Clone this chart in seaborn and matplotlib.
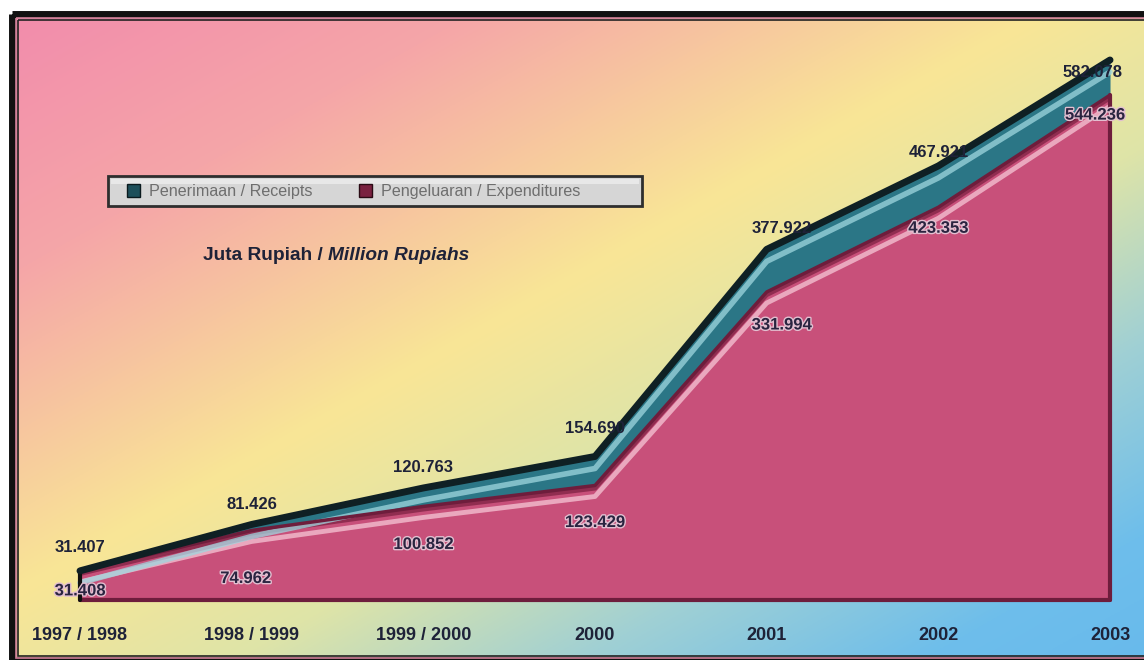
import numpy as np
import pandas as pd
import matplotlib
matplotlib.use("Agg")
import matplotlib.pyplot as plt
import matplotlib.patheffects as pe
import matplotlib.transforms as mtransforms
from matplotlib.patches import Patch, Rectangle
import seaborn as sns

# ---------------- data ----------------
periods = ["1997 / 1998", "1998 / 1999", "1999 / 2000", "2000", "2001", "2002", "2003"]
receipts = [31.407, 81.426, 120.763, 154.690, 377.922, 467.921, 582.078]
expenditures = [31.408, 74.962, 100.852, 123.429, 331.994, 423.353, 544.236]
legend_labels = ["Penerimaan / Receipts", "Pengeluaran / Expenditures"]
unit_main = "Juta Rupiah / "
unit_italic = "Million Rupiahs"

# label offsets (pixels)
rec_off = [(0, 23), (0, 20), (0, 20), (0, 28), (15, 21), (0, 13), (-17, -12)]
exp_off = [(0, -20), (-6, -48), (0, -38), (0, -37), (15, -33), (0, -21), (-15, -20)]

sns.set_theme(style="white")
plt.rcParams['font.family'] = ['Liberation Sans', 'DejaVu Sans']

W, H = 1144, 660
fig = plt.figure(figsize=(W / 100, H / 100), dpi=100)
fig.patch.set_facecolor("white")

# ---------------- gradient background ----------------
bg = fig.add_axes([0, 0, 1, 1])
bg.set_xlim(0, W)
bg.set_ylim(H, 0)
bg.axis("off")
xx, yy = np.meshgrid(np.linspace(0, 1, 400), np.linspace(0, 1, 240))
t = 0.5 * xx + 0.5 * yy
stops = np.array([0.0, 0.2, 0.45, 0.6, 0.75, 0.9, 1.0])
cols = np.array([
    [242, 140, 172],
    [245, 166, 168],
    [249, 230, 150],
    [222, 228, 168],
    [160, 208, 212],
    [110, 190, 235],
    [104, 186, 236],
]) / 255.0
img = np.dstack([np.interp(t, stops, cols[:, k]) for k in range(3)])
bg.imshow(img, extent=(14, W + 10, H - 2, 14), aspect="auto", zorder=0)
# frame
bg.add_patch(Rectangle((12, 14), W, H - 14, fill=False, ec="#111111", lw=5, zorder=2))
bg.add_patch(Rectangle((15.5, 17.5), W, H - 20, fill=False, ec="#d07f98", lw=1.2, zorder=2))
bg.add_patch(Rectangle((18, 20), W, H - 24, fill=False, ec="#222222", lw=1.2, zorder=2))
# legend box
bg.add_patch(Rectangle((108, 176), 534, 30, fc="#d6d6d6", ec="#2e2e2e", lw=2, zorder=3))
bg.add_patch(Rectangle((111, 178.5), 528, 5, fc="#e8e8e8", ec="none", zorder=3))

# ---------------- data axes ----------------
ax = fig.add_axes([0, 0, 1, 1])
ax.patch.set_alpha(0)
x0, dx = 80, 171.67
ybase, sc = 600, 540 / 582.078
ax.set_xlim(-x0 / dx, (W - x0) / dx)
ax.set_ylim(-(H - ybase) / sc, ybase / sc)
ax.axis("off")

df = pd.DataFrame({"x": np.arange(len(periods)), "rec": receipts, "exp": expenditures})
xs = df["x"].values

red = "#c8507a"
red_dark = "#6e1d3c"
teal = "#2b7686"
teal_dark = "#0f2024"

# expenditure area
ax.fill_between(xs, 0, df["exp"], color=red, lw=0, zorder=2)
# receipts band
ax.fill_between(xs, df["exp"], df["rec"], color=teal, lw=0, zorder=3)

down = lambda px: mtransforms.offset_copy(ax.transData, fig=fig, x=0, y=-px, units="dots")

# highlights
ax.plot(xs, df["exp"], color="#f3bfd0", lw=3.5, alpha=0.8, transform=down(11), zorder=3,
        solid_capstyle="round")
ax.plot(xs, df["rec"], color="#9fd7df", lw=4, alpha=0.75, transform=down(12), zorder=4,
        solid_capstyle="round")
ax.plot(xs, df["exp"], color="#8a2a4c", lw=3, alpha=0.9, transform=down(3), zorder=3)

# main edge lines via seaborn
sns.lineplot(data=df, x="x", y="exp", ax=ax, color=red_dark, lw=2.5, zorder=5, legend=False)
sns.lineplot(data=df, x="x", y="rec", ax=ax, color=teal_dark, lw=5, zorder=6, legend=False)

# base and right edges
ax.plot([xs[0], xs[-1]], [0, 0], color=red_dark, lw=3, zorder=5)
ax.plot([xs[-1], xs[-1]], [0, df["exp"].iloc[-1]], color=red_dark, lw=3, zorder=5)
ax.plot([xs[0], xs[0]], [0, df["rec"].iloc[0]], color="#111111", lw=3, zorder=5)

# value labels
for i in range(len(xs)):
    ax.annotate(f"{receipts[i]:.3f}", (xs[i], receipts[i]), xytext=(rec_off[i][0] * 0.72, rec_off[i][1] * 0.72),
                textcoords="offset points", ha="center", va="center", fontsize=12,
                fontweight="bold", color="#1e2238", zorder=8)
    ax.annotate(f"{expenditures[i]:.3f}", (xs[i], expenditures[i]),
                xytext=(exp_off[i][0] * 0.72, exp_off[i][1] * 0.72),
                textcoords="offset points", ha="center", va="center", fontsize=12,
                fontweight="bold", color="#2a2440", zorder=8,
                path_effects=[pe.withStroke(linewidth=2, foreground="#e2bfd0")])

# x period labels
ylab = (ybase - 635) / sc
for i, p in enumerate(periods):
    ax.text(xs[i], ylab, p, ha="center", va="center", fontsize=13, fontweight="bold",
            color="#1e2238", zorder=8)

# legend
handles = [Patch(facecolor="#1d4f5a", edgecolor="#0a1a1e"),
           Patch(facecolor="#7a2140", edgecolor="#2a0a14")]
leg = fig.legend(handles, legend_labels, loc="center left",
                 bbox_to_anchor=(127 / W, 1 - 191.5 / H), ncol=2, frameon=False,
                 fontsize=11.6, handlelength=0.8, handleheight=0.8,
                 handletextpad=0.55, columnspacing=2.9, borderpad=0, borderaxespad=0)
for tx in leg.get_texts():
    tx.set_color("#6e6e6e")

# unit subtitle
t1 = fig.text(203 / W, 1 - 255 / H, unit_main, ha="left", va="center", fontsize=13.8,
              fontweight="bold", color="#1e2238")
fig.canvas.draw()
bb = t1.get_window_extent()
fig.text(bb.x1 / W, 1 - 255 / H, unit_italic, ha="left", va="center", fontsize=13.8,
         fontweight="bold", style="italic", color="#1e2238")

fig.savefig("out.png", dpi=100)
